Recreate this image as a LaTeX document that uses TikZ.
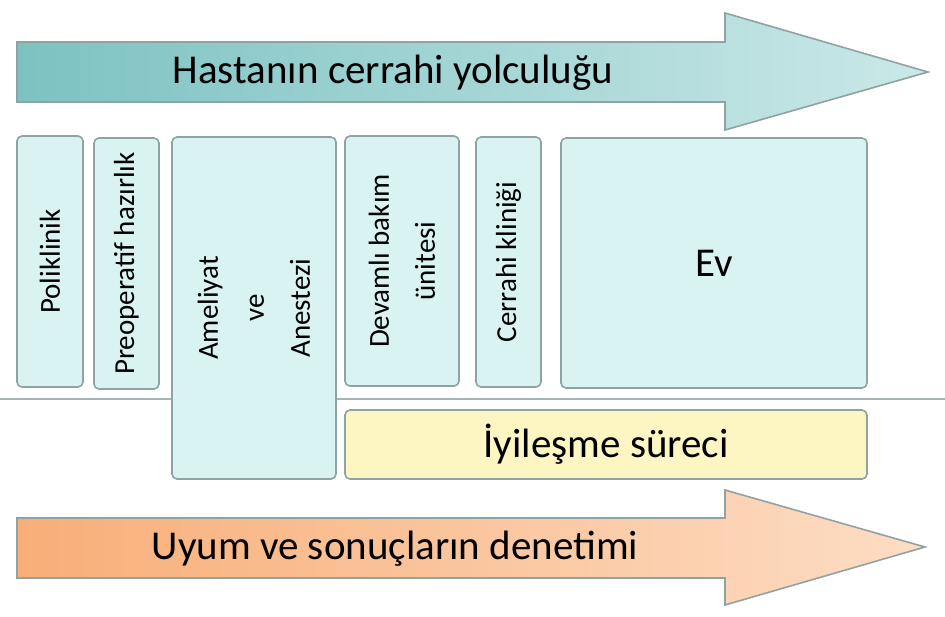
\documentclass[tikz,border=0pt]{standalone}
\usepackage{fontspec}
\setmainfont{Carlito}
\usetikzlibrary{positioning}
\definecolor{cline}{HTML}{8FA3A3}
\definecolor{cbox}{HTML}{D8F3F2}
\definecolor{cyel}{HTML}{FDF5C2}
\definecolor{cteal}{HTML}{7DC2C2}
\definecolor{ctealr}{HTML}{CBE8E8}
\definecolor{corange}{HTML}{F8AE78}
\definecolor{corangr}{HTML}{FDDDC4}

\begin{document}
\begin{tikzpicture}[x=1pt,y=-1pt,font=\fontsize{29}{46}\selectfont]
  \tikzstyle{box}=[draw=cline,line width=1.6pt,rounded corners=5pt,fill=cbox,align=center,inner sep=0pt]
  \tikzstyle{band}=[draw=cline,line width=1.6pt]
  \tikzstyle{big}=[font=\fontsize{41}{46}\selectfont]
  \useasboundingbox (0,0) rectangle (945,616);

  % separator
  \coordinate (sepl) at (0,399);
  \coordinate (sepr) at (945,399);
  \draw[cline!80,line width=1.2pt] (sepl) -- (sepr);

  % top arrow
  \path[band,left color=cteal,right color=ctealr]
    (17,42) -- (725,42) -- (725,13) -- (928,72) -- (725,130) -- (725,102) -- (17,102) -- cycle;
  \node[big] (journey) at (393,73) {Hastanın cerrahi yolculuğu};

  % units
  \node[box,rotate=90,minimum width=251,minimum height=66] (poli) at (50,261.5) {Poliklinik};
  \node[box,rotate=90,minimum width=251,minimum height=65] (preop) at (126.5,263.5) {Preoperatif hazırlık};
  \node[box,rotate=90,minimum width=342,minimum height=164] (surg) at (254,308) {Ameliyat\\ve\\Anestezi};
  \node[box,rotate=90,minimum width=250,minimum height=114] (icu) at (402,261) {Devamlı bakım\\ünitesi};
  \node[box,rotate=90,minimum width=250,minimum height=65] (ward) at (508.5,262) {Cerrahi kliniği};
  \node[box,big,minimum width=306,minimum height=250] (home) at (714,263) {Ev};

  % recovery
  \node[box,big,fill=cyel,minimum width=522,minimum height=69] (recov) at (606,444.5) {İyileşme süreci};

  % bottom arrow
  \path[band,left color=corange,right color=corangr]
    (17,518) -- (725,518) -- (725,490) -- (925,547) -- (725,605) -- (725,578) -- (17,578) -- cycle;
  \node[big] (audit) at (395,549) {Uyum ve sonuçların denetimi};
\end{tikzpicture}
\end{document}
